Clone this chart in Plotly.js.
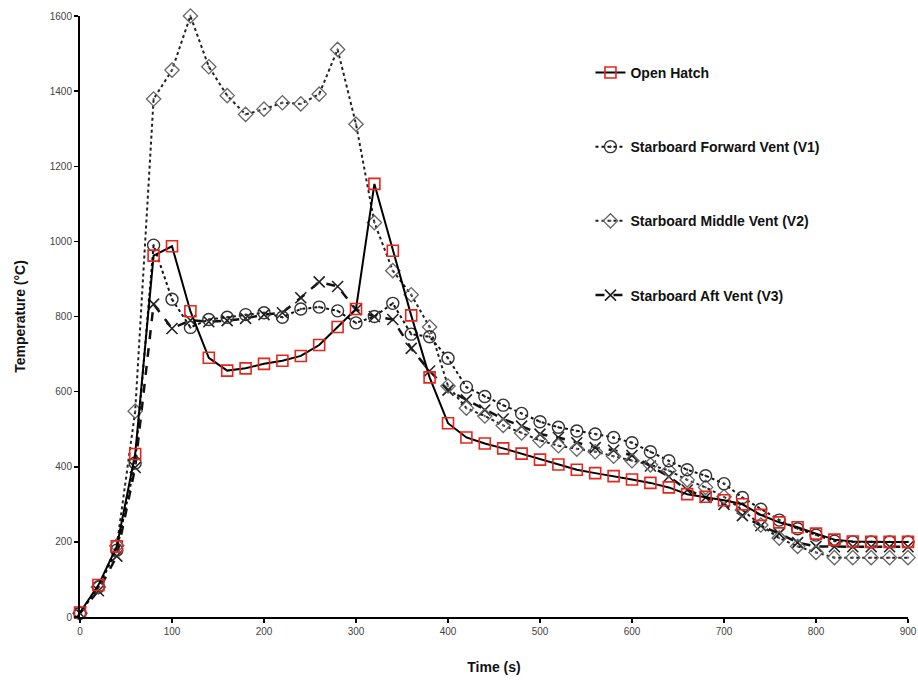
<!DOCTYPE html>
<html>
<head>
<meta charset="utf-8">
<script src="https://cdn.plot.ly/plotly-3.0.1.min.js"></script>
<style>
  html, body { margin: 0; padding: 0; background: #fff; }
  #chart { width: 918px; height: 688px; }
</style>
</head>
<body>
<div id="chart"></div>
<script>
const time = [0,20,40,60,80,100,120,140,160,180,200,220,240,260,280,300,320,340,360,380,400,420,440,460,480,500,520,540,560,580,600,620,640,660,680,700,720,740,760,780,800,820,840,860,880,900];

const openHatch = [12,85,188,434,962,987,814,690,656,662,674,682,695,724,772,820,1153,975,803,638,516,478,462,449,435,419,406,392,383,375,366,357,345,327,320,311,300,272,252,239,222,206,201,200,200,200];

const v1Forward = [10,80,178,410,990,846,771,792,798,805,810,798,820,825,815,783,800,835,753,746,689,612,587,564,542,520,505,495,487,478,464,440,416,392,376,355,318,287,258,235,218,202,200,200,200,200];

const v2Middle = [10,80,190,548,1379,1456,1600,1465,1388,1338,1352,1369,1366,1392,1511,1312,1050,922,858,772,615,556,535,510,490,470,456,447,440,428,416,405,390,365,345,320,285,245,210,188,172,158,158,158,158,158];

const v3Aft = [10,70,162,398,833,768,790,786,789,795,805,810,850,892,880,818,800,792,715,655,604,578,551,527,508,487,478,464,451,444,430,402,374,338,318,300,270,243,222,198,188,187,187,187,187,187];

const names = ["Open Hatch", "Starboard Forward Vent (V1)", "Starboard Middle Vent (V2)", "Starboard Aft Vent (V3)"];

const traces = [
  {
    x: time, y: v3Aft, name: names[3], legendgroup: "g4", legendrank: 4,
    mode: "lines+markers", cliponaxis: false,
    line: {color: "#111", width: 2.5, dash: "dash"},
    marker: {symbol: "x-thin-open", size: 11, color: "#222", line: {color: "#222", width: 1.6}}
  },
  {
    x: time, y: v2Middle, name: names[2], legendgroup: "g3", legendrank: 3,
    mode: "lines+markers", cliponaxis: false,
    line: {color: "#222", width: 2, dash: "dot"},
    marker: {symbol: "diamond-open-dot", size: 11, color: "#666", line: {color: "#666", width: 1.3}}
  },
  {
    x: time, y: v1Forward, name: names[1], legendgroup: "g2", legendrank: 2,
    mode: "lines+markers", cliponaxis: false,
    line: {color: "#111", width: 2, dash: "dot"},
    marker: {symbol: "circle-open-dot", size: 12, color: "#333", line: {color: "#333", width: 1.4}}
  },
  {
    x: time, y: openHatch, name: names[0], legendgroup: "g1", legendrank: 1,
    mode: "lines+markers", cliponaxis: false,
    line: {color: "#000", width: 2},
    marker: {symbol: "square-open", size: 11, color: "#e8241c", line: {color: "#e8241c", width: 1.6}}
  }
];

const layout = {
  width: 918, height: 688,
  margin: {l: 80, r: 10, t: 16, b: 71},
  paper_bgcolor: "#fff", plot_bgcolor: "#fff",
  font: {family: "Liberation Sans, Arial, sans-serif", color: "#000"},
  showlegend: true,
  legend: {
    x: 0.6165, y: 0.932, xanchor: "left", yanchor: "top",
    traceorder: "grouped", tracegroupgap: 53,
    font: {size: 14, color: "#111", family: "Liberation Sans, Arial, sans-serif", weight: "bold"},
    bgcolor: "rgba(0,0,0,0)"
  },
  xaxis: {
    range: [0, 900], dtick: 100, tick0: 0,
    showgrid: false, zeroline: false,
    showline: true, linecolor: "#000", linewidth: 2,
    ticks: "outside", ticklen: 4, tickwidth: 1.5, tickcolor: "#000",
    tickfont: {size: 10, color: "#444"},
    title: {text: "Time (s)", font: {size: 14, color: "#111", weight: "bold"}, standoff: 26}
  },
  yaxis: {
    range: [0, 1600], dtick: 200, tick0: 0,
    showgrid: false, zeroline: false,
    showline: true, linecolor: "#000", linewidth: 2,
    ticks: "outside", ticklen: 4, tickwidth: 1.5, tickcolor: "#000",
    tickfont: {size: 10, color: "#444"},
    title: {text: "Temperature (°C)", font: {size: 14, color: "#111", weight: "bold"}, standoff: 21}
  }
};

Plotly.newPlot("chart", traces, layout, {displayModeBar: false, staticPlot: true});
</script>
</body>
</html>
